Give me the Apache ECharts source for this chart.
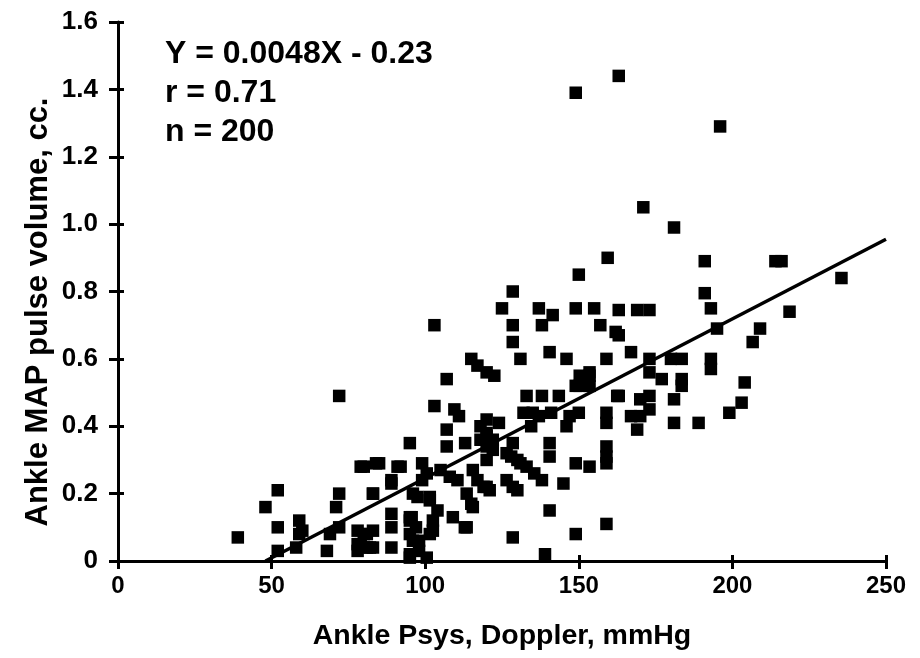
<!DOCTYPE html>
<html><head><meta charset="utf-8">
<script src="https://cdn.jsdelivr.net/npm/echarts@6/dist/echarts.min.js"></script>
<style>html,body{margin:0;padding:0;background:#fff}#c{width:920px;height:658px}</style>
</head><body><div id="c"></div>
<script>
// Scatter points [Ankle Psys (mmHg), Ankle MAP pulse volume (cc)]
const pointsLeft = [
 [39,0.07],[52,0.21],[48,0.16],[52,0.10],[52,0.03],[72,0.49],[59,0.12],[59,0.08],[60,0.09],[58,0.04],
 [68,0.03],[71,0.16],[72,0.20],[72,0.10],[69,0.08],[79,0.28],[84,0.29],[83,0.20],[80,0.08],[79,0.05],
 [82,0.04],[83,0.09],[91,0.28],[89,0.23],[78,0.09],[81,0.08],[78,0.05],[83,0.04],[78,0.03],[89,0.14],
 [89,0.10],[89,0.04],[95,0.12],[95,0.08]
];
const pointsCenter = [
 [128.5,0.80],[125,0.75],[128.5,0.70],[128.5,0.65],[131,0.60],[137,0.75],[141.5,0.73],[138,0.70],[149,0.75],[155,0.75],
 [157,0.70],[162,0.68],[140.5,0.62],[146,0.60],[159,0.60],[150,0.85],[103,0.70],[115,0.60],[117,0.58],[120,0.56],
 [122.5,0.55],[107,0.54],[151,0.54],[153.5,0.55],[149,0.52],[162.5,0.49],[133,0.49],[138,0.49],[103,0.46],[109.5,0.45],
 [111,0.43],[107,0.39],[135,0.44],[132,0.44],[137,0.43],[134.5,0.40],[147,0.43],[146,0.40],[159,0.44],[159,0.41],
 [120,0.42],[124,0.41],[118,0.40],[120,0.38],[118,0.36],[122,0.36],[128.5,0.35],[95,0.35],[107,0.34],[113,0.35],
 [140.5,0.35],[140.5,0.31],[159,0.34],[159,0.29],[149,0.29],[153.5,0.28],[85,0.29],[80,0.28],[99,0.29],[100.5,0.26],
 [105,0.27],[108,0.25],[110.5,0.24],[115.5,0.27],[117,0.24],[120,0.30],[120,0.34],[122,0.33],[126.5,0.32],[130,0.30],
 [133,0.28],[135.5,0.26],[138,0.24],[145,0.23],[126.5,0.24],[128.5,0.22],[120,0.22],[113.5,0.20],[89,0.24],[83,0.20],
 [96,0.20],[101.5,0.18],[104,0.15],[97.5,0.19],[115.5,0.16],[109,0.13],[113.5,0.10],[95,0.13],[97,0.10],[102.5,0.12],
 [101.5,0.08],[96,0.06],[98,0.03],[95,0.02],[100.5,0.01],[81,0.04],[128.5,0.07],[140.5,0.15],[139,0.02],[149,0.08],
 [159,0.11],[120,0.37],[92,0.28],[99,0.24],[119,0.22],[121,0.21],[128,0.31],[131,0.29],[130,0.21],[101.5,0.19],
 [115,0.17],[95.6,0.13],[102.5,0.09],[98,0.06],[95,0.01],[112.9,0.10],[159,0.31]
];
const pointsRight = [
 [159.4,0.90],[163,0.745],[169,0.745],[173,0.745],[163,0.67],[167,0.62],[173,0.60],[173,0.56],[180,0.60],[183.5,0.60],
 [177,0.54],[183.5,0.54],[183.5,0.52],[181,0.48],[181,0.41],[150.3,0.55],[153.5,0.56],[150.3,0.52],[153.5,0.52],[163,0.49],
 [170,0.48],[173,0.49],[173,0.45],[167,0.43],[170,0.43],[169,0.39],[150,0.44],[141,0.44],[143.5,0.49],[191,0.89],
 [216,0.89],[214,0.89],[191,0.795],[193,0.75],[218.6,0.74],[195,0.69],[209,0.69],[206.6,0.65],[193,0.60],[193,0.57],
 [204,0.53],[203,0.47],[199,0.44],[189,0.41],[163,1.44],[149,1.39],[196,1.29],[171,1.05],[181,0.99],[235.5,0.84]
];
// Regression line endpoints (Y = 0.0048X - 0.23)
const fitX = [48, 250];
const fitY = [0, 0.955];
const xTicks = [0, 50, 100, 150, 200, 250];
const yTicks = [0, 0.2, 0.4, 0.6, 0.8, 1.0, 1.2, 1.4, 1.6];
const statLines = ['Y = 0.0048X - 0.23', 'r = 0.71', 'n = 200'];
const xTitle = 'Ankle Psys, Doppler, mmHg';
const yTitle = 'Ankle MAP pulse volume, cc.';

const FONT = '"Liberation Sans", Arial, sans-serif';
const allPoints = pointsLeft.concat(pointsCenter, pointsRight);
const fitData = fitX.map((x, i) => [x, fitY[i]]);

const chart = echarts.init(document.getElementById('c'), null, {renderer: 'canvas'});
const axisBase = {type: 'value', splitLine: {show: false}};
chart.setOption({
  animation: false,
  backgroundColor: '#fff',
  grid: {left: 118, right: 34, top: 22, bottom: 97, containLabel: false},
  xAxis: [
    Object.assign({}, axisBase, {
      min: 0, max: 250, interval: 50,
      axisLine: {show: true, lineStyle: {color: '#000', width: 3}},
      axisTick: {show: true, length: 8, lineStyle: {color: '#000', width: 3}},
      axisLabel: {color: '#000', fontFamily: FONT, fontWeight: 'bold', fontSize: 24, margin: 13,
        formatter: v => xTicks.includes(v) ? String(v) : ''},
      name: xTitle, nameLocation: 'middle', nameGap: 61,
      nameTextStyle: {color: '#000', fontFamily: FONT, fontWeight: 'bold', fontSize: 28.5}
    }),
    Object.assign({}, axisBase, {
      min: 0, max: 250, interval: 50, position: 'bottom',
      axisLine: {show: false},
      axisTick: {show: true, inside: true, length: 6, lineStyle: {color: '#000', width: 3}},
      axisLabel: {show: false}
    })
  ],
  yAxis: [
    Object.assign({}, axisBase, {
      min: 0, max: 1.6, interval: 0.2,
      axisLine: {show: true, lineStyle: {color: '#000', width: 3}},
      axisTick: {show: true, length: 9, lineStyle: {color: '#000', width: 3}},
      axisLabel: {color: '#000', fontFamily: FONT, fontWeight: 'bold', fontSize: 26, margin: 20,
        formatter: v => { const t = yTicks.find(k => Math.abs(k - v) < 1e-6); return t === 0 ? '0' : t.toFixed(1); }}
    }),
    Object.assign({}, axisBase, {
      min: 0, max: 1.6, interval: 0.2, position: 'left',
      axisLine: {show: false},
      axisTick: {show: true, inside: true, length: 6, lineStyle: {color: '#000', width: 3}},
      axisLabel: {show: false}
    })
  ],
  graphic: [{
    type: 'text', left: 165, top: 35,
    style: {text: statLines.join('\n'), fill: '#000', font: 'bold 32px ' + FONT, lineHeight: 39}
  }, {
    type: 'text', x: 38, y: 312, rotation: Math.PI / 2,
    style: {text: yTitle, fill: '#000', font: 'bold 31px ' + FONT, align: 'center', verticalAlign: 'middle'}
  }],
  series: [
    {type: 'scatter', xAxisIndex: 0, yAxisIndex: 0, data: allPoints, symbol: 'rect', symbolSize: 12.5,
      itemStyle: {color: '#000', opacity: 1}, z: 3},
    {type: 'line', xAxisIndex: 0, yAxisIndex: 0, data: fitData, symbol: 'none',
      lineStyle: {color: '#000', width: 3.5}, z: 4}
  ]
});
</script></body></html>
